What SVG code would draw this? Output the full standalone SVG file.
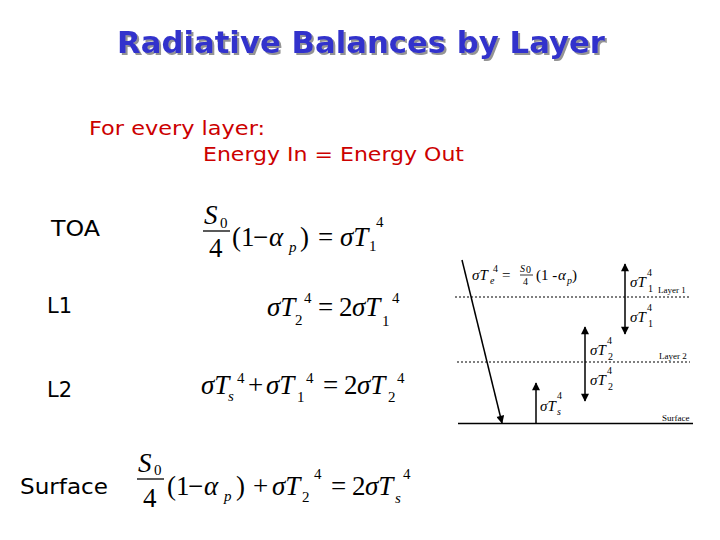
<svg xmlns="http://www.w3.org/2000/svg" width="720" height="540" viewBox="0 0 720 540">
<defs>
<style>
.title{font-family:"DejaVu Sans",sans-serif;font-weight:bold;font-size:30px;fill:#3333cc}
.red{font-family:"DejaVu Sans",sans-serif;font-size:20px;fill:#cc0000}
.lbl{font-family:"DejaVu Sans",sans-serif;font-size:21px;fill:#000}
.eq{font-family:"Liberation Serif","Times New Roman",serif;font-size:27px;fill:#000}
.i{font-style:italic}
.s{font-size:15px}
.sm{font-family:"Liberation Serif","Times New Roman",serif;font-size:15px;fill:#000}
.sms{font-size:10px}
.tiny{font-family:"Liberation Serif","Times New Roman",serif;font-size:9px;fill:#000}
.dot{stroke:#000;stroke-width:1.2;stroke-dasharray:2 2;fill:none}
.ln{stroke:#000;stroke-width:1.5;fill:none}
</style>
<filter id="shadow" x="-5%" y="-20%" width="110%" height="150%">
<feDropShadow dx="2" dy="2" stdDeviation="0.6" flood-color="#888" flood-opacity="0.9"/>
</filter>
<marker id="ah" viewBox="0 0 10 10" refX="9" refY="5" markerWidth="9" markerHeight="8" markerUnits="userSpaceOnUse" orient="auto-start-reverse">
<path d="M0,0 L10,5 L0,10 z" fill="#000"/>
</marker>
</defs>
<rect width="720" height="540" fill="#fff"/>

<g id="title">
<text class="title" x="361" y="53" text-anchor="middle" textLength="488" lengthAdjust="spacingAndGlyphs" filter="url(#shadow)">Radiative Balances by Layer</text>
</g>

<g id="intro">
<text class="red" x="89" y="135" textLength="176" lengthAdjust="spacingAndGlyphs">For every layer:</text>
<text class="red" x="203" y="161" textLength="261" lengthAdjust="spacingAndGlyphs">Energy In = Energy Out</text>
</g>

<g id="labels">
<text class="lbl" x="51" y="236" textLength="49" lengthAdjust="spacingAndGlyphs">TOA</text>
<text class="lbl" x="47" y="313">L1</text>
<text class="lbl" x="47" y="397">L2</text>
<text class="lbl" x="20" y="494" textLength="88" lengthAdjust="spacingAndGlyphs">Surface</text>
</g>

<g id="eq-toa">
<text class="eq i" x="204" y="224">S</text>
<text class="eq s" x="220" y="228">0</text>
<line x1="203" y1="231" x2="230" y2="231" stroke="#000" stroke-width="1.3"/>
<text class="eq" x="209" y="257">4</text>
<text class="eq" x="232" y="246">(1</text>
<text class="eq" x="253" y="246">−</text>
<text class="eq i" x="269" y="246">α</text>
<text class="eq i s" x="289" y="252">p</text>
<text class="eq" x="300" y="246">)</text>
<text class="eq" x="318" y="246">=</text>
<text class="eq i" x="340" y="246">σT</text>
<text class="eq s" x="369" y="251">1</text>
<text class="eq s" x="376" y="227">4</text>
</g>

<g id="eq-l1">
<text class="eq i" x="267" y="316">σT</text>
<text class="eq s" x="295" y="325">2</text>
<text class="eq s" x="304" y="303">4</text>
<text class="eq" x="318" y="316">=</text>
<text class="eq" x="339" y="316">2</text>
<text class="eq i" x="352" y="316">σT</text>
<text class="eq s" x="382" y="326">1</text>
<text class="eq s" x="392" y="303">4</text>
</g>

<g id="eq-l2">
<text class="eq i" x="201" y="394">σT</text>
<text class="eq i s" x="228" y="401">s</text>
<text class="eq s" x="237" y="383">4</text>
<text class="eq" x="248" y="394">+</text>
<text class="eq i" x="266" y="394">σT</text>
<text class="eq s" x="297" y="402">1</text>
<text class="eq s" x="306" y="383">4</text>
<text class="eq" x="323" y="394">=</text>
<text class="eq" x="344" y="394">2</text>
<text class="eq i" x="357" y="394">σT</text>
<text class="eq s" x="388" y="402">2</text>
<text class="eq s" x="397" y="383">4</text>
</g>

<g id="eq-surface">
<text class="eq i" x="138" y="472">S</text>
<text class="eq s" x="154" y="475">0</text>
<line x1="137" y1="479" x2="164" y2="479" stroke="#000" stroke-width="1.3"/>
<text class="eq" x="143" y="507">4</text>
<text class="eq" x="167" y="495">(1</text>
<text class="eq" x="188" y="495">−</text>
<text class="eq i" x="204" y="495">α</text>
<text class="eq i s" x="224" y="501">p</text>
<text class="eq" x="236" y="495">)</text>
<text class="eq" x="253" y="495">+</text>
<text class="eq i" x="272" y="495">σT</text>
<text class="eq s" x="302" y="502">2</text>
<text class="eq s" x="314" y="479">4</text>
<text class="eq" x="331" y="495">=</text>
<text class="eq" x="352" y="495">2</text>
<text class="eq i" x="365" y="495">σT</text>
<text class="eq i s" x="395" y="503">s</text>
<text class="eq s" x="403" y="479">4</text>
</g>

<g id="layers">
<line class="dot" x1="455" y1="297" x2="690" y2="297"/>
<line class="dot" x1="457" y1="362" x2="690" y2="362"/>
<line class="ln" x1="458" y1="423.5" x2="693" y2="423.5"/>
<text class="tiny" x="658" y="293">Layer 1</text>
<text class="tiny" x="659" y="359">Layer 2</text>
<text class="tiny" x="662" y="421">Surface</text>
</g>

<g id="connectors">
<line class="ln" x1="462" y1="260" x2="502" y2="423" marker-end="url(#ah)"/>
<line class="ln" x1="625" y1="264" x2="625" y2="334" marker-start="url(#ah)" marker-end="url(#ah)"/>
<line class="ln" x1="585" y1="327" x2="585" y2="401" marker-start="url(#ah)" marker-end="url(#ah)"/>
<line class="ln" x1="536" y1="423" x2="536" y2="383" marker-end="url(#ah)"/>
</g>

<g id="flux-labels">
<text class="sm i" x="472" y="280">σT</text>
<text class="sm i sms" x="490" y="284">e</text>
<text class="sm sms" x="493" y="272">4</text>
<text class="sm" x="502" y="280">=</text>
<text class="sm i sms" x="520" y="272">S</text>
<text class="sm sms" x="526" y="273">0</text>
<line x1="520" y1="275" x2="533" y2="275" stroke="#000" stroke-width="0.8"/>
<text class="sm sms" x="523" y="285">4</text>
<text class="sm" x="536" y="280" font-size="12">(1 - </text>
<text class="sm i" x="558" y="280">α</text>
<text class="sm i sms" x="567" y="284">p</text>
<text class="sm" x="572" y="280" font-size="12">)</text>

<text class="sm i" x="630" y="287">σT</text>
<text class="sm sms" x="648" y="292">1</text>
<text class="sm sms" x="647" y="276">4</text>
<text class="sm i" x="630" y="322">σT</text>
<text class="sm sms" x="648" y="327">1</text>
<text class="sm sms" x="647" y="311">4</text>

<text class="sm i" x="590" y="355">σT</text>
<text class="sm sms" x="608" y="360">2</text>
<text class="sm sms" x="607" y="344">4</text>
<text class="sm i" x="590" y="385">σT</text>
<text class="sm sms" x="608" y="390">2</text>
<text class="sm sms" x="607" y="374">4</text>

<text class="sm i" x="540" y="411">σT</text>
<text class="sm i sms" x="557" y="415">s</text>
<text class="sm sms" x="557" y="399">4</text>
</g>
</svg>
